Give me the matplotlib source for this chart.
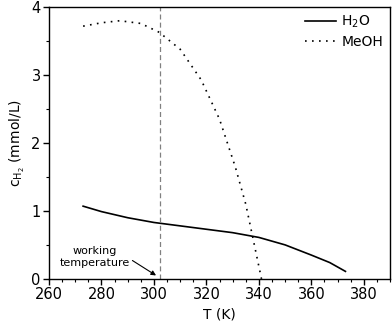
import matplotlib.pyplot as plt
from matplotlib.ticker import MultipleLocator

# values
T_h2o = [273, 280, 290, 300, 310, 320, 330, 340, 350, 360, 367, 373]
c_h2o = [1.07, 0.99, 0.90, 0.83, 0.78, 0.73, 0.68, 0.61, 0.50, 0.35, 0.24, 0.11]

T_meoh = [273, 280, 287, 295, 302, 310, 318, 325, 331, 335, 338, 341]
c_meoh = [3.72, 3.77, 3.80, 3.76, 3.63, 3.38, 2.93, 2.35, 1.65, 1.10, 0.55, 0.0]

T_work = 302.5

plt.rcParams['font.family'] = ['DejaVu Sans']
plt.rcParams['font.size'] = 10

fig = plt.figure(figsize=(3.92, 3.25), dpi=100)
ax = fig.add_axes([0.125, 0.142, 0.87, 0.836])

ax.plot(T_h2o, c_h2o, color='black', lw=1.2, label='H$_\\mathregular{2}$O')
ax.plot(T_meoh, c_meoh, color='black', lw=1.2, linestyle=(0, (1, 3.2)), label='MeOH')
ax.axvline(T_work, color='gray', lw=0.9, linestyle=(0, (4, 2.5)))

ax.text(277.5, 0.32, 'working\ntemperature', ha='center', va='center',
        fontsize=8, linespacing=1.2)
ax.annotate('', xy=(300.8, 0.05), xytext=(291.8, 0.27),
            arrowprops=dict(arrowstyle='-|>', color='black', lw=0.8,
                            mutation_scale=7, shrinkA=0, shrinkB=0))

ax.set_xlim(260, 390)
ax.set_ylim(0, 4)
ax.xaxis.set_major_locator(MultipleLocator(20))
ax.xaxis.set_minor_locator(MultipleLocator(5))
ax.yaxis.set_major_locator(MultipleLocator(1))
ax.yaxis.set_minor_locator(MultipleLocator(0.5))
ax.tick_params(which='major', direction='out', length=4, width=1)
ax.tick_params(which='minor', direction='out', length=2.5, width=0.8)
ax.tick_params(axis='both', labelsize=10.5, pad=2)

ax.set_xlabel('T (K)', fontsize=10, labelpad=4)
ax.set_ylabel('c$_{\\mathregular{H_2}}$ (mmol/L)', fontsize=10, labelpad=3)

for s in ax.spines.values():
    s.set_linewidth(1.0)

leg = ax.legend(loc='upper right', frameon=False, fontsize=10, handlelength=2.2,
                handletextpad=0.4, borderaxespad=0.1, labelspacing=0.35)

fig.savefig('out.png', dpi=100)
